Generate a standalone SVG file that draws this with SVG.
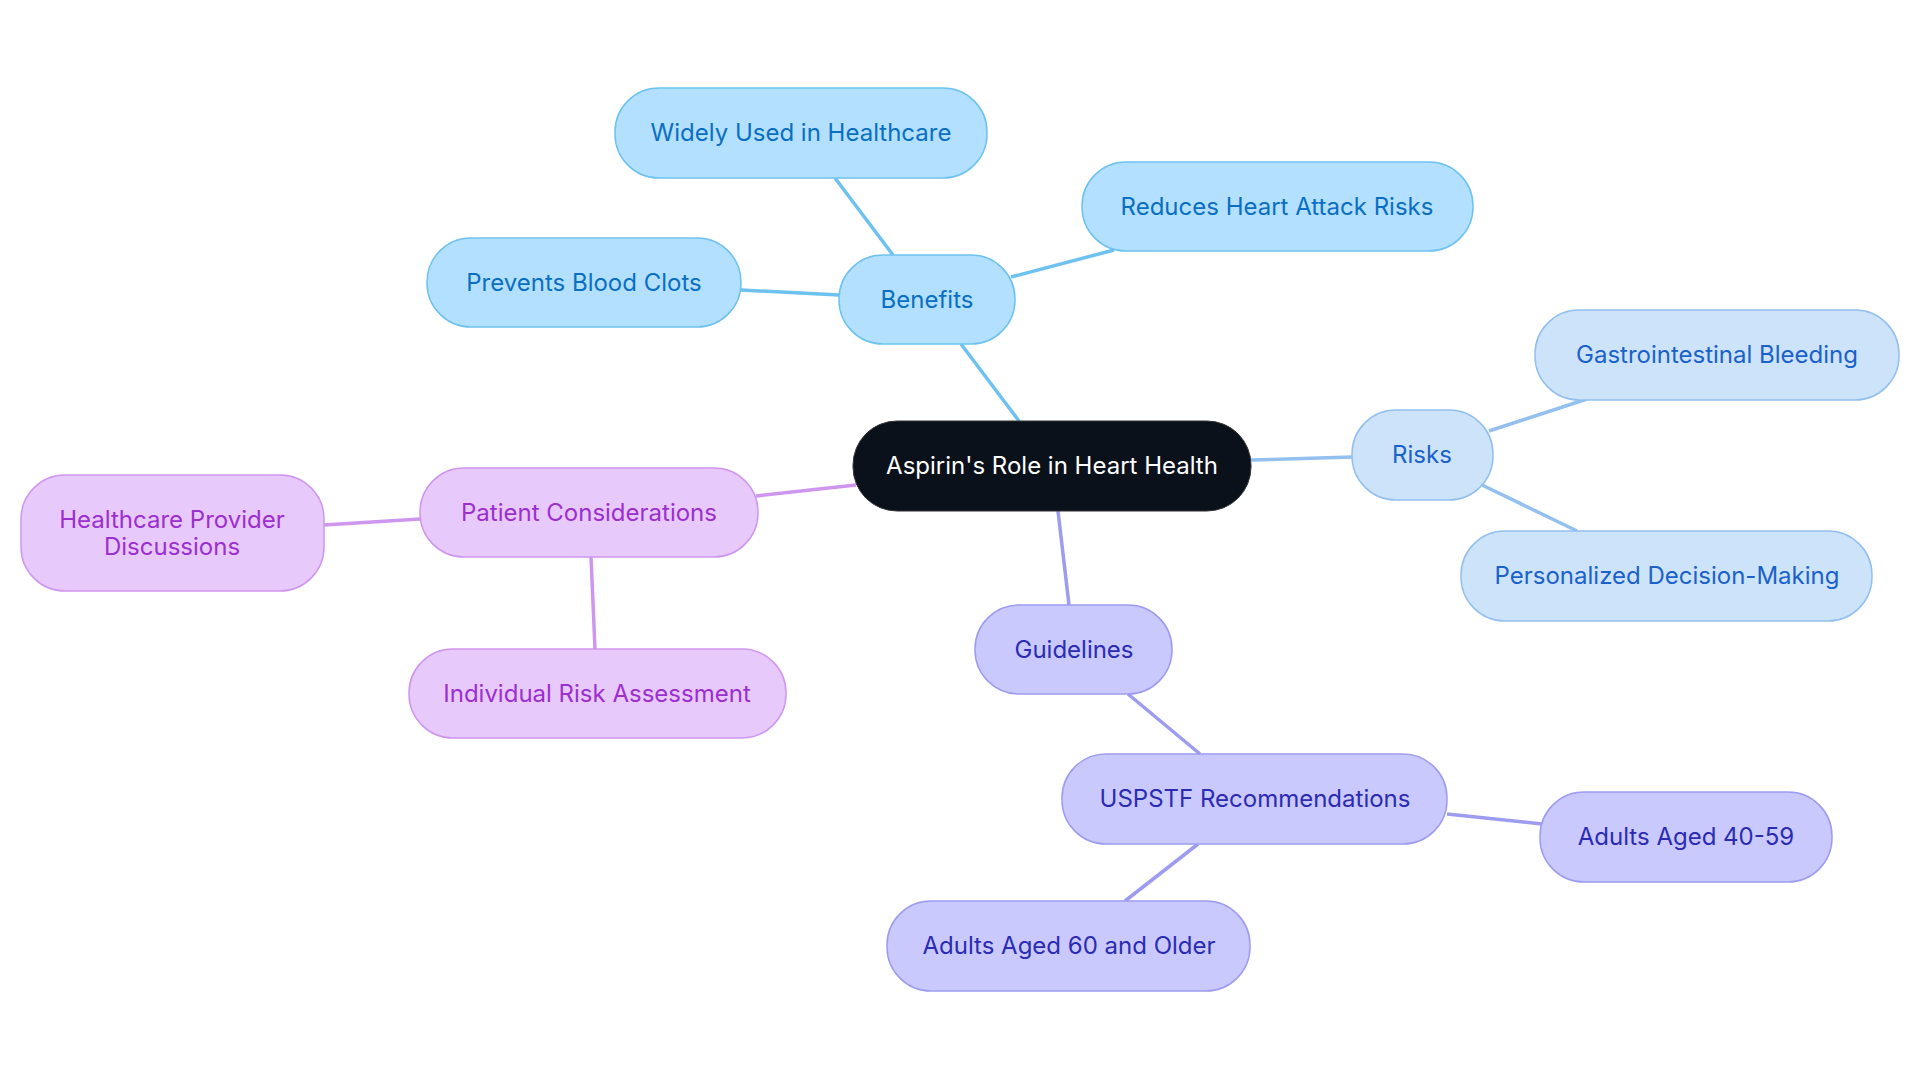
<svg xmlns="http://www.w3.org/2000/svg" width="1920" height="1083" viewBox="0 0 1920 1083">
<style>
text{font-family:Inter,"Noto Sans","Liberation Sans",sans-serif;font-size:24px;text-anchor:middle;dominant-baseline:central}
.b rect{fill:#b3e0ff;stroke:#6ec2f0;stroke-width:1.5}.b text{fill:#0a6fc2}
.r rect{fill:#cde3fa;stroke:#93c0ee;stroke-width:1.5}.r text{fill:#1a62c9}
.g rect{fill:#c9c9fd;stroke:#9d9cf0;stroke-width:1.5}.g text{fill:#2b2bb3}
.p rect{fill:#e8c9fc;stroke:#cf96f0;stroke-width:1.5}.p text{fill:#9b2fcf}
#edges line{stroke-width:3.5;fill:none}
</style>
<rect width="1920" height="1083" fill="#fff"/>
<g id="edges">
<line x1="1019" y1="421" x2="961" y2="344" stroke="#6ec2f0"/>
<line x1="893" y1="255" x2="835" y2="178" stroke="#6ec2f0"/>
<line x1="1011" y1="277" x2="1114" y2="250" stroke="#6ec2f0"/>
<line x1="839" y1="295" x2="741" y2="290" stroke="#6ec2f0"/>
<line x1="1251" y1="460" x2="1352" y2="457" stroke="#93c0ee"/>
<line x1="1489" y1="431" x2="1587" y2="399" stroke="#93c0ee"/>
<line x1="1482" y1="485" x2="1577" y2="531" stroke="#93c0ee"/>
<line x1="856" y1="485" x2="756" y2="496" stroke="#cf96f0"/>
<line x1="420" y1="519" x2="324" y2="525" stroke="#cf96f0"/>
<line x1="591" y1="557" x2="595" y2="649" stroke="#cf96f0"/>
<line x1="1058" y1="511" x2="1069" y2="605" stroke="#9d9cf0"/>
<line x1="1128" y1="694" x2="1200" y2="754" stroke="#9d9cf0"/>
<line x1="1447" y1="814" x2="1542" y2="824" stroke="#9d9cf0"/>
<line x1="1198" y1="844" x2="1125" y2="901" stroke="#9d9cf0"/>
</g>
<g id="center"><rect x="853" y="421" width="398" height="90" rx="44" fill="#0b111b" stroke="#333" stroke-width="1"/><text x="1052" y="465" fill="#fff">Aspirin's Role in Heart Health</text></g>
<g id="benefits" class="b"><rect x="839" y="255" width="176" height="89" rx="44"/><text x="927" y="299">Benefits</text></g>
<g id="widely" class="b"><rect x="615" y="88" width="372" height="90" rx="44"/><text x="801" y="132">Widely Used in Healthcare</text></g>
<g id="reduces" class="b"><rect x="1082" y="162" width="391" height="89" rx="44"/><text x="1277" y="206">Reduces Heart Attack Risks</text></g>
<g id="prevents" class="b"><rect x="427" y="238" width="314" height="89" rx="44"/><text x="584" y="282">Prevents Blood Clots</text></g>
<g id="risks" class="r"><rect x="1352" y="410" width="141" height="90" rx="44"/><text x="1422" y="454">Risks</text></g>
<g id="gastro" class="r"><rect x="1535" y="310" width="364" height="90" rx="44"/><text x="1717" y="354">Gastrointestinal Bleeding</text></g>
<g id="personal" class="r"><rect x="1461" y="531" width="411" height="90" rx="44"/><text x="1667" y="575">Personalized Decision-Making</text></g>
<g id="patient" class="p"><rect x="420" y="468" width="338" height="89" rx="44"/><text x="589" y="512">Patient Considerations</text></g>
<g id="provider" class="p"><rect x="21" y="475" width="303" height="116" rx="44"/><text x="172" y="519">Healthcare Provider</text><text x="172" y="546">Discussions</text></g>
<g id="individual" class="p"><rect x="409" y="649" width="377" height="89" rx="44"/><text x="597" y="693">Individual Risk Assessment</text></g>
<g id="guidelines" class="g"><rect x="975" y="605" width="197" height="89" rx="44"/><text x="1074" y="649">Guidelines</text></g>
<g id="uspstf" class="g"><rect x="1062" y="754" width="385" height="90" rx="44"/><text x="1255" y="798">USPSTF Recommendations</text></g>
<g id="a40" class="g"><rect x="1540" y="792" width="292" height="90" rx="44"/><text x="1686" y="836">Adults Aged 40-59</text></g>
<g id="a60" class="g"><rect x="887" y="901" width="363" height="90" rx="44"/><text x="1069" y="945">Adults Aged 60 and Older</text></g>
</svg>
